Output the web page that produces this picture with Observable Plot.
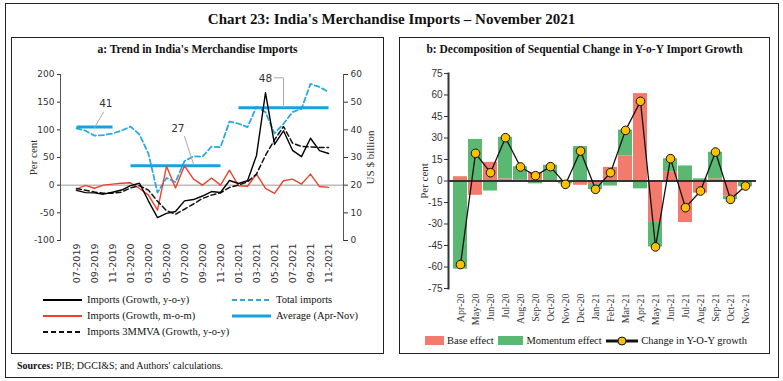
<!DOCTYPE html>
<html><head><meta charset="utf-8">
<script src="https://cdn.jsdelivr.net/npm/d3@7"></script>
<script src="https://cdn.jsdelivr.net/npm/@observablehq/plot@0.6"></script>
<style>
body{margin:0;background:#fff;}
#root{position:relative;width:783px;height:381px;overflow:hidden;font-family:"Liberation Serif",serif;color:#111;}
.box{position:absolute;border:1px solid #222;box-sizing:border-box;}
.abs{position:absolute;white-space:nowrap;}
.sub{position:absolute;top:43px;text-align:center;font-weight:bold;font-size:11.5px;}
.leg{position:absolute;font-size:10.5px;line-height:12px;white-space:nowrap;}
.plot{position:absolute;}
g[aria-label="y-axis label"] text{font-family:"Liberation Serif",serif;font-size:11px;}
</style></head><body>
<div id="root">
  <div class="box" style="left:5px;top:3px;width:774px;height:375px"></div>
  <div class="abs" style="left:0;width:783px;top:11px;text-align:center;font-weight:bold;font-size:15px">Chart 23: India's Merchandise Imports – November 2021</div>
  <div class="box" style="left:11px;top:37px;width:373px;height:317px"></div>
  <div class="box" style="left:399px;top:37px;width:371px;height:317px"></div>
  <div class="sub" style="left:11px;width:373px">a: Trend in India's Merchandise Imports</div>
  <div class="sub" style="left:399px;width:371px">b: Decomposition of Sequential Change in Y-o-Y Import Growth</div>
  <div id="left" class="plot" style="left:11px;top:60px"></div>
  <div id="right" class="plot" style="left:399px;top:60px"></div>
  <div id="legL"></div>
  <div id="legR"></div>
  <div class="abs" style="left:17px;top:360px;font-size:10px"><b>Sources:</b> PIB; DGCI&amp;S; and Authors' calculations.</div>
</div>
<script>
// ---------- Panel a data ----------
const months = ["07-2019","08-2019","09-2019","10-2019","11-2019","12-2019","01-2020","02-2020","03-2020","04-2020","05-2020","06-2020","07-2020","08-2020","09-2020","10-2020","11-2020","12-2020","01-2021","02-2021","03-2021","04-2021","05-2021","06-2021","07-2021","08-2021","09-2021","10-2021","11-2021"];
const tickMonths = ["07-2019","09-2019","11-2019","01-2020","03-2020","05-2020","07-2020","09-2020","11-2020","01-2021","03-2021","05-2021","07-2021","09-2021","11-2021"];
const importsYoY = [-9.5,-13.5,-13.9,-16.3,-12.7,-8.8,-0.8,3.5,-28.7,-58.6,-51.0,-47.6,-28.4,-26.0,-19.6,-11.5,-13.3,8.5,3.0,8.0,53.7,167.0,73.6,98.3,63.0,51.5,84.8,62.5,57.2];
const importsMoM = [-7.0,-0.5,-5.6,0.0,1.9,3.4,4.3,-6.0,-18.0,-45.0,34.0,-5.0,35.0,11.0,0.0,13.0,0.0,27.0,-1.0,-2.0,20.0,-6.0,-15.0,8.0,11.0,2.0,20.0,-2.5,-4.0];
const imports3MMVA = [-6.0,-9.0,-12.5,-14.5,-14.5,-12.5,-5.0,-1.0,-9.0,-29.0,-46.0,-52.5,-43.5,-34.0,-24.0,-18.0,-14.0,-4.0,0.0,6.0,20.0,54.0,82.0,106.0,76.0,70.0,69.0,68.0,68.0];
const totalImports = [40.5,39.7,37.9,38.1,38.7,39.7,41.2,38.3,31.3,17.3,22.6,21.1,28.7,30.4,30.3,33.9,33.7,43.0,42.2,41.0,48.3,46.4,38.7,42.2,46.4,47.6,56.6,55.5,53.7];
const avgFrom = ["07-2019","01-2020","01-2021"];
const avgTo = ["11-2019","11-2020","11-2021"];
const avgValues = [41,27,48];
const annLabels = ["41","27","48"];
const annMonths = ["11-2019","07-2020","04-2021"];
const annY = [148,102,193];
const annAnchor = ["end","end","middle"];
const leaderLines = [
  [["10-2019",132],["09-2019",104]],
  [["07-2020",88],["08-2020",38]],
  [["05-2021",194],["06-2021",194],["06-2021",141]]
];

// ---------- Panel b data ----------
const months2 = ["Apr-20","May-20","Jun-20","Jul-20","Aug-20","Sep-20","Oct-20","Nov-20","Dec-20","Jan-21","Feb-21","Mar-21","Apr-21","May-21","Jun-21","Jul-21","Aug-21","Sep-21","Oct-21","Nov-21"];
const baseEffect = [3,-10,13,1.5,1,6,-1,-1,-3,-2.5,9.5,17.5,61,-29,6.5,-29,-8.5,1.5,-10.5,0];
const momentumEffect = [-61.5,29,-7,29,9,-2,11,-1,24,-3.5,-3.5,18,-5.5,-17,9,10.5,1.5,18.5,-2.5,-4];
const changeYoY = [-58.3,19.3,5.8,30.2,9.8,3.7,10,-2.3,20.9,-5.8,5.8,35.3,55.6,-46,15.6,-18.6,-7,20.2,-12.8,-3.5];

// secondary axis (US $ billion, 0–60) mapped onto per cent axis (-100–200)
const toPc = v => 5 * v - 100;

const rows = months.map((m, i) => ({m, yoy: importsYoY[i], mom: importsMoM[i], mmva: imports3MMVA[i], tot: totalImports[i]}));
const avgRows = avgValues.map((v, i) => ({from: avgFrom[i], to: avgTo[i], v}));
const pcTicks = [-100,-50,0,50,100,150,200];

const leftPlot = Plot.plot({
  width: 373, height: 230,
  marginLeft: 49, marginRight: 41, marginTop: 14, marginBottom: 50,
  style: {fontFamily: "DejaVu Sans", fontSize: "9px", color: "#333", background: "transparent", overflow: "visible"},
  x: {type: "point", domain: months, padding: 0.5},
  y: {domain: [-100, 200]},
  marks: [
    Plot.ruleY([0], {stroke: "#999", strokeWidth: 1}),
    Plot.frame({anchor: "left", stroke: "#555"}),
    Plot.frame({anchor: "right", stroke: "#555"}),
    Plot.axisY({ticks: pcTicks, tickFormat: d => String(d), tickSize: 3, tickPadding: 3, label: "Per cent", labelAnchor: "center", labelOffset: 31, labelArrow: "none"}),
    Plot.axisY({anchor: "right", ticks: pcTicks, tickFormat: d => String((d + 100) / 5), tickSize: 4, tickPadding: 3, label: "US $ billion", labelAnchor: "center", labelOffset: 30, labelArrow: "none"}),
    Plot.axisX({ticks: tickMonths, tickRotate: -90, tickSize: 0, tickPadding: 3, label: null, fontSize: 9.5}),
    Plot.line(rows, {x: "m", y: d => toPc(d.tot), stroke: "#2aa8e0", strokeWidth: 1.8, strokeDasharray: "5,3"}),
    Plot.link(avgRows, {x1: "from", x2: "to", y1: d => toPc(d.v), y2: d => toPc(d.v), stroke: "#16a2dc", strokeWidth: 3}),
    Plot.line(rows, {x: "m", y: "mom", stroke: "#f0402c", strokeWidth: 1.4}),
    Plot.line(rows, {x: "m", y: "mmva", stroke: "#111", strokeWidth: 1.5, strokeDasharray: "5,3"}),
    Plot.line(rows, {x: "m", y: "yoy", stroke: "#000", strokeWidth: 1.4}),
    ...leaderLines.map(pts => Plot.line(pts, {x: d => d[0], y: d => d[1], stroke: "#aaa", strokeWidth: 1})),
    ...annLabels.map((t, i) => Plot.text([t], {x: () => annMonths[i], y: () => annY[i], text: d => d, textAnchor: annAnchor[i], fontSize: 10.5, fill: "#333", fontFamily: "DejaVu Sans"}))
  ]
});
document.getElementById("left").appendChild(leftPlot);

// ---------- Panel b ----------
const barRows = [];
months2.forEach((m, i) => barRows.push({m, type: "Base effect", v: baseEffect[i]}));
months2.forEach((m, i) => barRows.push({m, type: "Momentum effect", v: momentumEffect[i]}));
const chgRows = months2.map((m, i) => ({m, v: changeYoY[i]}));

const rightPlot = Plot.plot({
  width: 371, height: 280,
  marginLeft: 49, marginRight: 14, marginTop: 13, marginBottom: 52,
  style: {fontFamily: "Liberation Sans Narrow, Liberation Sans", fontSize: "10px", color: "#333", background: "transparent", overflow: "visible"},
  x: {type: "band", domain: months2, paddingInner: 0.08, paddingOuter: 0.03},
  y: {domain: [-75, 75]},
  color: {domain: ["Base effect", "Momentum effect"], range: ["#f37b6d", "#5ab872"]},
  marks: [
    Plot.barY(barRows, {x: "m", y: "v", fill: "type"}),
    Plot.ruleY([0], {stroke: "#333", strokeWidth: 2}),
    Plot.frame({anchor: "left", stroke: "#333", strokeWidth: 2}),
    Plot.axisY({ticks: d3.range(-75, 76, 15), tickFormat: d => String(d), tickSize: 4, tickPadding: 2, label: "Per cent", labelAnchor: "center", labelOffset: 28, labelArrow: "none"}),
    Plot.axisX({tickRotate: -90, tickSize: 0, tickPadding: 5, label: null, fontFamily: "Liberation Serif", fontSize: 10}),
    Plot.line(chgRows, {x: "m", y: "v", stroke: "#111", strokeWidth: 1.3}),
    Plot.dot(chgRows, {x: "m", y: "v", r: 4.3, fill: "#ffc000", stroke: "#111", strokeWidth: 1})
  ]
});
document.getElementById("right").appendChild(rightPlot);

// ---------- Legends ----------
const legL = [
  {x: 43, y: 293, label: "Imports (Growth, y-o-y)", stroke: "#000", w: 2, dash: null},
  {x: 43, y: 309, label: "Imports (Growth, m-o-m)", stroke: "#f0402c", w: 2, dash: null},
  {x: 43, y: 325, label: "Imports 3MMVA (Growth, y-o-y)", stroke: "#111", w: 2, dash: "5,3"},
  {x: 232, y: 293, label: "Total imports", stroke: "#2aa8e0", w: 2, dash: "5,3"},
  {x: 232, y: 309, label: "Average (Apr-Nov)", stroke: "#16a2dc", w: 3, dash: null}
];
const root = document.getElementById("legL");
legL.forEach(d => {
  const div = document.createElement("div");
  div.className = "leg";
  div.style.left = d.x + "px"; div.style.top = d.y + "px";
  div.innerHTML = `<svg width="40" height="12" style="vertical-align:middle;margin-right:4px"><line x1="0" x2="39" y1="6" y2="6" stroke="${d.stroke}" stroke-width="${d.w}" ${d.dash ? `stroke-dasharray="${d.dash}"` : ""}/></svg><span style="vertical-align:middle">${d.label}</span>`;
  root.appendChild(div);
});
const legR = document.getElementById("legR");
legR.className = "leg";
legR.style.left = "425px"; legR.style.top = "334px";
legR.innerHTML = `<span style="display:inline-block;width:19px;height:9px;background:#f37b6d;vertical-align:middle;margin-right:3px"></span><span style="vertical-align:middle">Base effect</span>
<span style="display:inline-block;width:25px;height:9px;background:#5ab872;vertical-align:middle;margin-left:2px;margin-right:3px"></span><span style="vertical-align:middle">Momentum effect</span>
<svg width="34" height="12" style="vertical-align:middle;margin-left:1px"><line x1="1" x2="33" y1="6" y2="6" stroke="#111" stroke-width="3"/><circle cx="17" cy="6" r="4" fill="#ffc000" stroke="#111"/></svg><span style="vertical-align:middle;margin-left:2px">Change in Y-O-Y growth</span>`;
</script>
</body></html>
